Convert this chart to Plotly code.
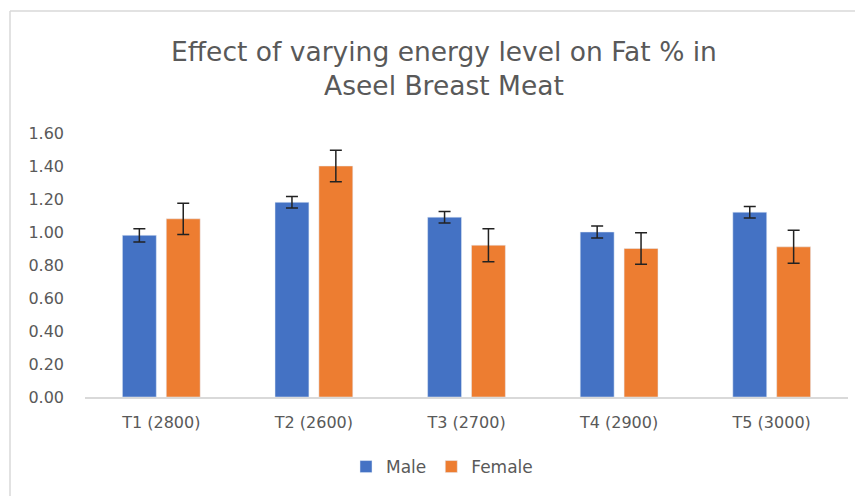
import plotly.graph_objects as go

categories = ["T1 (2800)", "T2 (2600)", "T3 (2700)", "T4 (2900)", "T5 (3000)"]
male = [0.98, 1.18, 1.09, 1.00, 1.12]
male_err = [0.04, 0.035, 0.035, 0.037, 0.035]
female = [1.08, 1.40, 0.92, 0.90, 0.91]
female_err = [0.095, 0.095, 0.10, 0.095, 0.10]
y_ticks = [0, 0.2, 0.4, 0.6, 0.8, 1.0, 1.2, 1.4, 1.6]

# page body adds an 8px offset, so the figure is sized to fit
W, H = 855, 488
ML, MR, MT, MB = 77, 15, 125, 99
pw = W - ML - MR
ph = H - MT - MB

def px_x(p):
    return (p - ML) / pw

def px_y(p):
    return (H - MB - p) / ph

font_family = "'DejaVu Sans', sans-serif"
grey = "#595959"

fig = go.Figure()
fig.add_trace(go.Bar(
    x=categories, y=male, name="Male", marker_color="#4472C4",
    error_y=dict(type="data", array=male_err, visible=True, color="#222222", thickness=1.5, width=6),
))
fig.add_trace(go.Bar(
    x=categories, y=female, name="Female", marker_color="#ED7D31",
    error_y=dict(type="data", array=female_err, visible=True, color="#222222", thickness=1.5, width=6),
))

fig.update_layout(
    width=W, height=H,
    margin=dict(l=ML, r=MR, t=MT, b=MB, autoexpand=False),
    paper_bgcolor="white", plot_bgcolor="white",
    barmode="group", bargap=0.425, bargroupgap=0.227,
    font=dict(family=font_family, color=grey, size=16),
    title=dict(
        text="Effect of varying energy level on Fat % in<br>Aseel Breast Meat",
        x=436 / W, xref="container", xanchor="center",
        y=1 - 53 / H, yref="container", yanchor="middle",
        font=dict(size=26.5, color=grey, family=font_family),
    ),
    showlegend=True,
    legend=dict(orientation="h", x=px_x(434), xanchor="center", y=px_y(459), yanchor="middle",
                font=dict(size=17, color=grey), itemwidth=30, traceorder="normal"),
    xaxis=dict(showline=True, linecolor="#d9d9d9", linewidth=1.5, ticks="",
               tickfont=dict(size=16, color=grey), showgrid=False, ticklabelstandoff=10),
    yaxis=dict(range=[0, 1.6], tickvals=y_ticks, tickformat=".2f", showgrid=False,
               zeroline=False, showline=False, ticks="", ticklabelstandoff=20,
               tickfont=dict(size=16, color=grey)),
    shapes=[
        dict(type="line", xref="paper", yref="paper", x0=px_x(2), x1=px_x(900),
             y0=px_y(3), y1=px_y(3), line=dict(color="#d9d9d9", width=1.5)),
        dict(type="line", xref="paper", yref="paper", x0=px_x(2), x1=px_x(2),
             y0=px_y(3), y1=px_y(600), line=dict(color="#d9d9d9", width=1.5)),
    ],
)

fig.write_html("out.html")
